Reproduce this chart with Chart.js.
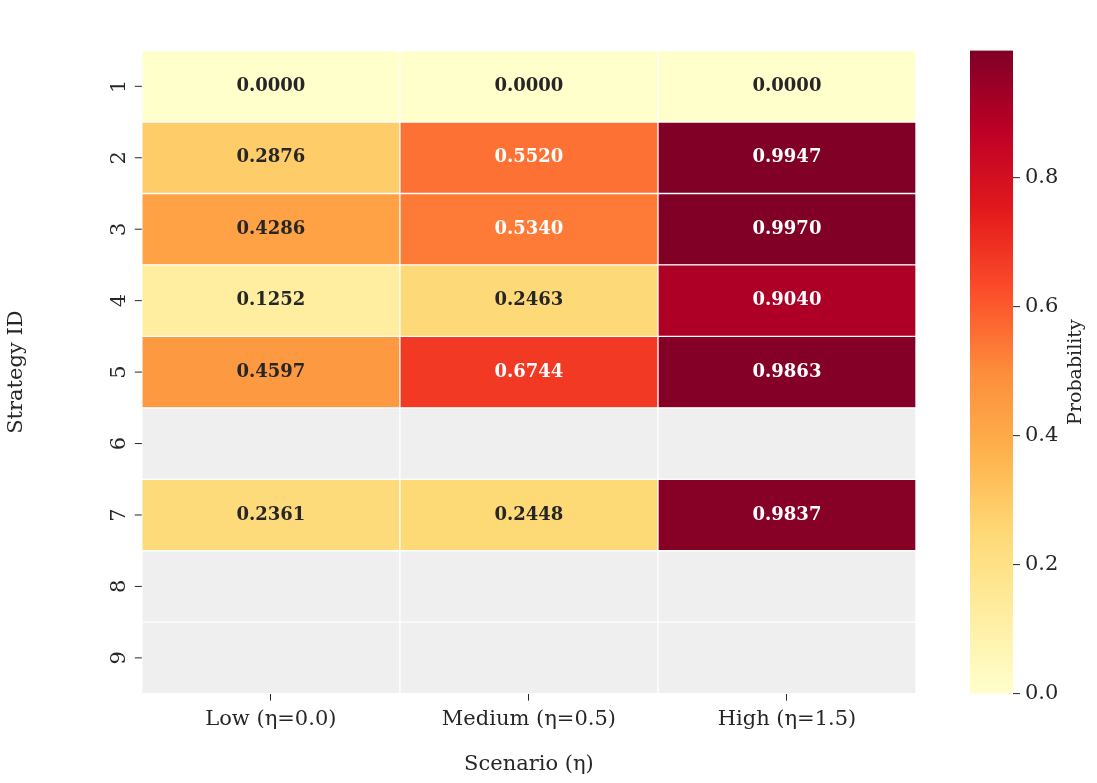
<!DOCTYPE html>
<html><head><meta charset="utf-8">
<script src="https://cdn.jsdelivr.net/npm/chart.js@4"></script>
<style>body{margin:0;background:#fff}#wrap{width:1097px;height:783px}</style>
</head><body><div id="wrap"><canvas id="c"></canvas></div>
<script>
var scenarios = ['Low (η=0.0)', 'Medium (η=0.5)', 'High (η=1.5)'];
var strategies = ['1','2','3','4','5','6','7','8','9'];
var lowVals = [0.0000, 0.2876, 0.4286, 0.1252, 0.4597, null, 0.2361, null, null];
var medVals = [0.0000, 0.5520, 0.5340, 0.2463, 0.6744, null, 0.2448, null, null];
var highVals = [0.0000, 0.9947, 0.9970, 0.9040, 0.9863, null, 0.9837, null, null];
var cbTicks = [0.0, 0.2, 0.4, 0.6, 0.8];
var vmax = 0.997;

var stops = ['#ffffcc','#ffeda0','#fed976','#feb24c','#fd8d3c','#fc4e2a','#e31a1c','#bd0026','#800026'];
function hex(h){return [1,3,5].map(function(i){return parseInt(h.substr(i,2),16);});}
function cmap(v){
  if (v === null) return '#efefef';
  var t = Math.max(0, Math.min(1, v / vmax)) * (stops.length - 1);
  var i = Math.min(Math.floor(t), stops.length - 2), f = t - i;
  var a = hex(stops[i]), b = hex(stops[i+1]);
  return 'rgb(' + a.map(function(x,k){return Math.round(x + (b[k]-x)*f);}).join(',') + ')';
}
var F = 'DejaVu Serif';
var cols = [lowVals, medVals, highVals];
var datasets = cols.map(function(vals){
  return {
    data: vals.map(function(){return 1;}),
    vals: vals,
    backgroundColor: vals.map(cmap),
    borderColor: '#fff', borderWidth: 1, borderSkipped: false,
    barPercentage: 1, categoryPercentage: 1
  };
});

var extras = {
  id: 'extras',
  afterDatasetsDraw: function(chart){
    var ctx = chart.ctx, ca = chart.chartArea;
    ctx.save();
    ctx.font = 'bold 18px "' + F + '"';
    ctx.textAlign = 'center'; ctx.textBaseline = 'middle';
    chart.data.datasets.forEach(function(ds, di){
      var meta = chart.getDatasetMeta(di);
      meta.data.forEach(function(bar, i){
        var v = ds.vals[i];
        if (v === null) return;
        ctx.fillStyle = v > 0.5 ? '#ffffff' : '#262626';
        ctx.fillText(v.toFixed(4), (bar.x + bar.base) / 2, bar.y);
      });
    });
    var ys = chart.scales.y;
    ctx.fillStyle = '#262626'; ctx.strokeStyle = '#262626'; ctx.lineWidth = 1;
    ctx.font = '21px "' + F + '"';
    strategies.forEach(function(s, i){
      var y = ys.getPixelForValue(i);
      ctx.beginPath(); ctx.moveTo(ca.left - 7, y); ctx.lineTo(ca.left, y); ctx.stroke();
      ctx.save(); ctx.translate(ca.left - 22, y); ctx.rotate(-Math.PI/2);
      ctx.fillText(s, 0, 0); ctx.restore();
    });
    var x0 = 970, w = 43, top = ca.top, bot = ca.bottom;
    var g = ctx.createLinearGradient(0, bot, 0, top);
    stops.forEach(function(c, k){ g.addColorStop(k/(stops.length-1), c); });
    ctx.fillStyle = g; ctx.fillRect(x0, top, w, bot - top);
    ctx.fillStyle = '#262626'; ctx.textAlign = 'left';
    cbTicks.forEach(function(t){
      var y = bot - (t / vmax) * (bot - top);
      ctx.beginPath(); ctx.moveTo(x0 + w, y); ctx.lineTo(x0 + w + 7, y); ctx.stroke();
      ctx.fillText(t.toFixed(1), x0 + w + 12, y);
    });
    ctx.save(); ctx.translate(1076, (top + bot) / 2); ctx.rotate(-Math.PI/2);
    ctx.textAlign = 'center'; ctx.font = '19px "' + F + '"';
    ctx.fillText('Probability', 0, 0); ctx.restore();
    ctx.restore();
  }
};

new Chart(document.getElementById('c'), {
  type: 'bar',
  data: { labels: strategies, datasets: datasets },
  options: {
    indexAxis: 'y', responsive: true, maintainAspectRatio: false, animation: false,
    layout: { padding: { left: 0, right: 181, top: 8, bottom: 6 } },
    plugins: { legend: { display: false }, tooltip: { enabled: false } },
    scales: {
      x: {
        stacked: true, min: 0, max: 3,
        afterBuildTicks: function(ax){ ax.ticks = [0.5,1.5,2.5].map(function(v){return {value: v};}); },
        ticks: { autoSkip: false, maxRotation: 0, color: '#262626', font: { family: F, size: 21 }, padding: 6,
          callback: function(v){ return scenarios[Math.floor(v)]; } },
        grid: { drawOnChartArea: false, tickLength: 7, color: '#262626' },
        border: { display: false },
        title: { display: true, text: 'Scenario (η)', color: '#262626', font: { family: F, size: 21 }, padding: { top: 14, bottom: 0 } }
      },
      y: {
        stacked: true,
        ticks: { color: 'rgba(0,0,0,0)', font: { family: F, size: 1 }, padding: 50 },
        grid: { display: false },
        border: { display: false },
        title: { display: true, text: 'Strategy ID', color: '#262626', font: { family: F, size: 21 } }
      }
    }
  },
  plugins: [extras]
});
</script></body></html>
